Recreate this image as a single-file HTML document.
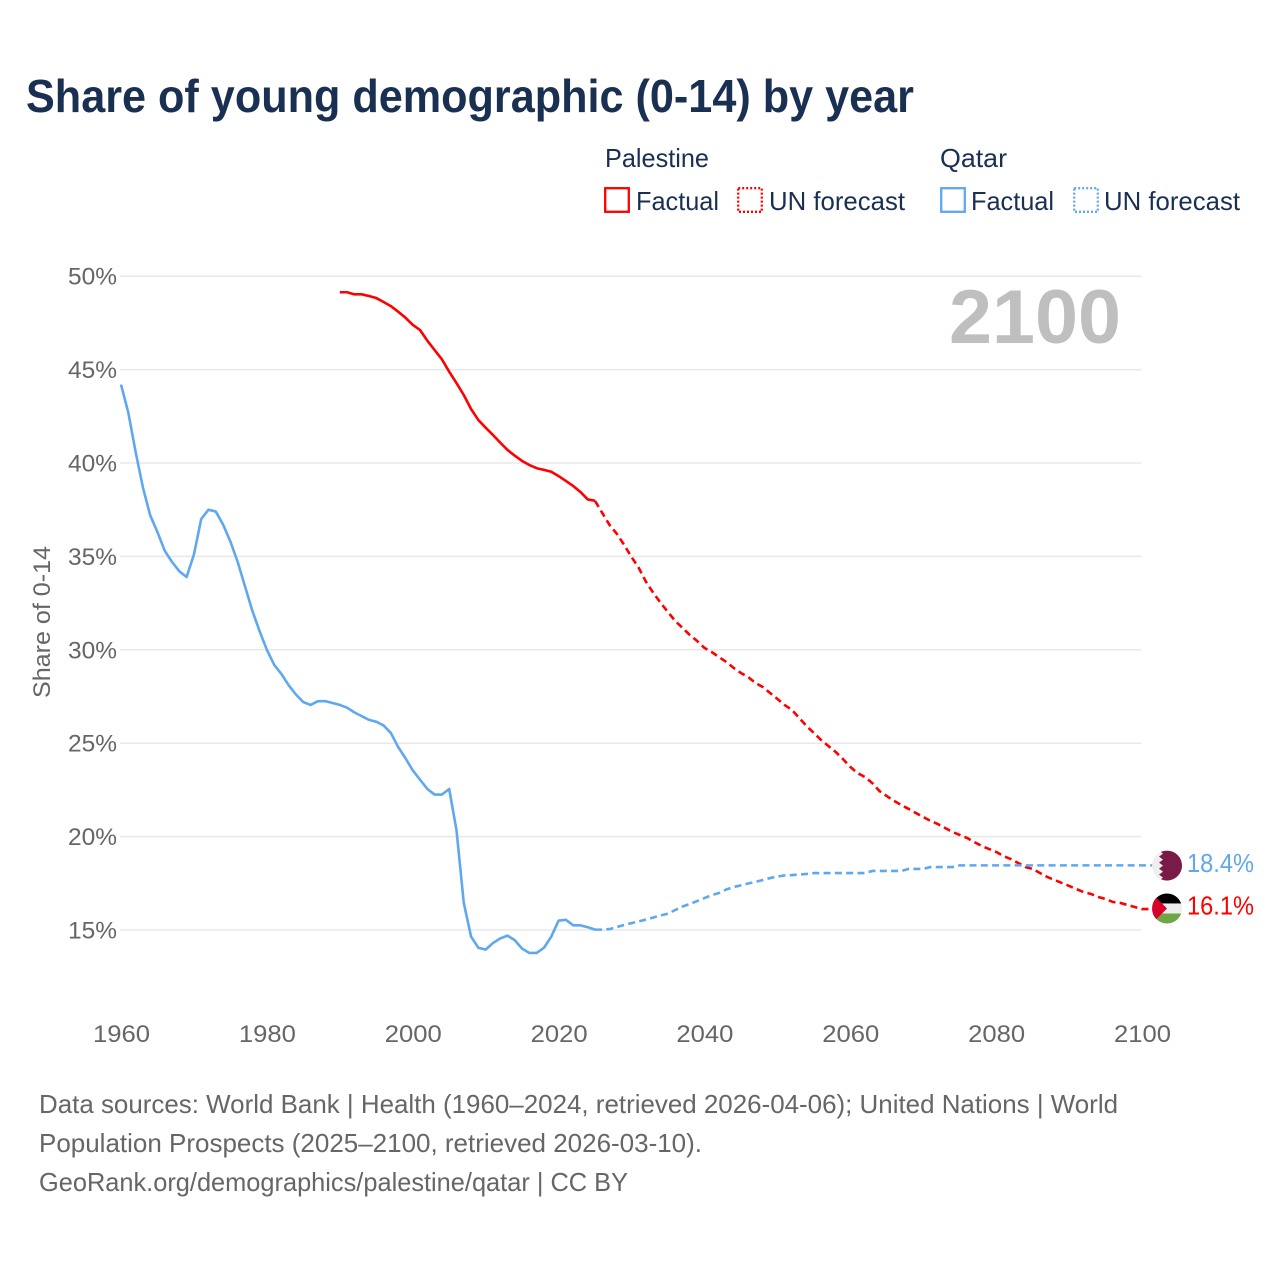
<!DOCTYPE html>
<html lang="en">
<head>
<meta charset="utf-8">
<title>Share of young demographic (0-14) by year</title>
<style>
  html, body { margin: 0; padding: 0; background: #ffffff; }
  svg { display: block; font-family: "Liberation Sans", sans-serif; }
</style>
</head>
<body>
<svg id="chart" width="1280" height="1280" viewBox="0 0 1280 1280" xmlns="http://www.w3.org/2000/svg">
  <defs>
    <clipPath id="flag-clip"><circle cx="0" cy="0" r="15"></circle></clipPath>
  </defs>
  <rect x="0" y="0" width="1280" height="1280" fill="#ffffff"></rect>

  <text x="26" y="112" font-size="46" font-weight="700" fill="#1a3052" textLength="888" lengthAdjust="spacingAndGlyphs">Share of young demographic (0-14) by year</text>

  <g font-size="26" fill="#1a3052">
    <text x="605" y="167" textLength="104" lengthAdjust="spacingAndGlyphs">Palestine</text>
    <text x="940" y="167" textLength="67" lengthAdjust="spacingAndGlyphs">Qatar</text>

    <rect x="605.2" y="188.2" width="23.6" height="23.6" fill="none" stroke="#ff0000" stroke-width="2.3"></rect>
    <text x="636" y="210" textLength="83" lengthAdjust="spacingAndGlyphs">Factual</text>
    <rect x="738.2" y="188.2" width="23.6" height="23.6" fill="none" stroke="#ff0000" stroke-width="2.3" stroke-dasharray="2 2"></rect>
    <text x="769" y="210" textLength="136" lengthAdjust="spacingAndGlyphs">UN forecast</text>

    <rect x="941.2" y="188.2" width="23.6" height="23.6" fill="none" stroke="#5fa8ee" stroke-width="2.3"></rect>
    <text x="971" y="210" textLength="83" lengthAdjust="spacingAndGlyphs">Factual</text>
    <rect x="1074.2" y="188.2" width="23.6" height="23.6" fill="none" stroke="#5fa8ee" stroke-width="2.3" stroke-dasharray="2 2"></rect>
    <text x="1104" y="210" textLength="136" lengthAdjust="spacingAndGlyphs">UN forecast</text>
  </g>

  <g id="grid"></g>
  <g id="y-ticks" font-size="24" fill="#666666" text-anchor="end"></g>
  <g id="x-ticks" font-size="24" fill="#666666" text-anchor="middle"></g>

  <text transform="translate(50,622) rotate(-90)" font-size="24" fill="#666666" text-anchor="middle" textLength="152" lengthAdjust="spacingAndGlyphs">Share of 0-14</text>

  <text x="949" y="343" font-size="76" font-weight="700" fill="#bfbfbf" textLength="172" lengthAdjust="spacingAndGlyphs">2100</text>

  <g id="series" fill="none" stroke-width="2.6" stroke-linejoin="round"></g>

  <g id="flag-qatar">
    <g clip-path="url(#flag-clip)">
      <rect x="-15" y="-15" width="30" height="30" fill="#eeeeee"></rect>
      <polygon points="15,-15 -8,-15 -4,-12 -8,-9 -4,-6 -8,-3 -4,0 -8,3 -4,6 -8,9 -4,12 -8,15 15,15" fill="#7a1a47"></polygon>
    </g>
  </g>
  <g id="flag-palestine">
    <g clip-path="url(#flag-clip)">
      <rect x="-15" y="-15" width="30" height="10" fill="#000000"></rect>
      <rect x="-15" y="-5" width="30" height="10" fill="#eeeeee"></rect>
      <rect x="-15" y="5" width="30" height="10" fill="#6fa543"></rect>
      <polygon points="-15,-15 0,0 -15,15" fill="#d9002c"></polygon>
    </g>
  </g>
  <g id="end-labels" font-size="26"></g>

  <g font-size="26" fill="#666666">
    <text x="39" y="1113" textLength="1079" lengthAdjust="spacingAndGlyphs">Data sources: World Bank | Health (1960–2024, retrieved 2026-04-06); United Nations | World</text>
    <text x="39" y="1152" textLength="663" lengthAdjust="spacingAndGlyphs">Population Prospects (2025–2100, retrieved 2026-03-10).</text>
    <text x="39" y="1191" textLength="589" lengthAdjust="spacingAndGlyphs">GeoRank.org/demographics/palestine/qatar | CC BY</text>
  </g>
</svg>

<script>
const yTickValues = [50, 45, 40, 35, 30, 25, 20, 15];
const yTickLabels = ["50%", "45%", "40%", "35%", "30%", "25%", "20%", "15%"];
const xTickYears = [1960, 1980, 2000, 2020, 2040, 2060, 2080, 2100];

const qatarFactualStart = 1960;
const qatarFactual = [
  44.2, 42.7, 40.6, 38.7, 37.2, 36.3, 35.3, 34.7, 34.2, 33.9,
  35.1, 37.0, 37.5, 37.4, 36.7, 35.8, 34.7, 33.4, 32.1, 31.0,
  30.0, 29.2, 28.7, 28.1, 27.6, 27.2, 27.05, 27.25, 27.25, 27.15,
  27.05, 26.9, 26.65, 26.45, 26.25, 26.15, 25.95, 25.55, 24.8, 24.2,
  23.55, 23.05, 22.55, 22.25, 22.25, 22.55, 20.35, 16.45, 14.65, 14.05,
  13.95, 14.3, 14.55, 14.7, 14.45, 14.0, 13.77, 13.77, 14.05, 14.65,
  15.5, 15.55, 15.25, 15.25, 15.15, 15.02
];

const qatarForecastStart = 2025;
const qatarForecast = [
  15.02, 15.02, 15.05, 15.16, 15.27,
  15.37, 15.46, 15.56, 15.67, 15.78, 15.88, 16.07, 16.26, 16.39, 16.55,
  16.71, 16.87, 16.98, 17.17, 17.30, 17.39, 17.49, 17.57, 17.68, 17.78,
  17.86, 17.92, 17.94, 17.97, 18.0, 18.05, 18.05, 18.05, 18.05, 18.05,
  18.05, 18.05, 18.05, 18.16, 18.16, 18.16, 18.16, 18.16, 18.27, 18.27,
  18.27, 18.37, 18.37, 18.37, 18.37, 18.46, 18.46, 18.46, 18.46, 18.46,
  18.46, 18.46, 18.46, 18.46, 18.46, 18.46, 18.46, 18.46, 18.46, 18.46,
  18.46, 18.46, 18.46, 18.46, 18.46, 18.46, 18.46, 18.46, 18.46, 18.46,
  18.46
];

const palestineFactualStart = 1990;
const palestineFactual = [
  49.14, 49.14, 49.03, 49.03, 48.94, 48.83, 48.62, 48.40, 48.1, 47.78,
  47.4, 47.12, 46.55, 46.05, 45.55, 44.89, 44.28, 43.64, 42.89, 42.3,
  41.89, 41.5, 41.09, 40.7, 40.39, 40.11, 39.89, 39.72, 39.63, 39.53,
  39.3, 39.04, 38.77, 38.45, 38.05, 37.98
];

const palestineForecastStart = 2025;
const palestineForecast = [
  37.97, 37.32, 36.68, 36.2, 35.61,
  34.97, 34.38, 33.63, 33.04, 32.51, 32.02, 31.54, 31.17, 30.79, 30.47,
  30.1, 29.88, 29.61, 29.35, 29.03, 28.76, 28.54, 28.22, 28.01, 27.69,
  27.37, 27.04, 26.78, 26.35, 25.92, 25.55, 25.17, 24.85, 24.53, 24.15,
  23.73, 23.4, 23.19, 22.87, 22.44, 22.17, 21.91, 21.69, 21.48, 21.26,
  21.05, 20.84, 20.67, 20.46, 20.25, 20.09, 19.93, 19.71, 19.5, 19.34,
  19.18, 18.96, 18.8, 18.59, 18.37, 18.27, 18.05, 17.84, 17.68, 17.52,
  17.36, 17.19, 17.03, 16.93, 16.77, 16.66, 16.5, 16.45, 16.34, 16.23,
  16.12
];

const endLabelQatar = "18.4%";
const endLabelPalestine = "16.1%";

const SVG_NS = "http://www.w3.org/2000/svg";
const PLOT_LEFT = 121;
const YEAR_PX = 7.293;
const Y_BASE = 930;
const PCT_PX = 18.68;
const FLAG_OFFSET = 25;
const RED = "#ff0000";
const BLUE = "#5fa8ee";

function xScale(year) { return PLOT_LEFT + (year - 1960) * YEAR_PX; }
function yScale(value) { return Y_BASE - (value - 15) * PCT_PX; }

function linePath(startYear, values, extendToFlag) {
  let d = "";
  values.forEach(function (v, i) {
    d += (i === 0 ? "M" : "L") + xScale(startYear + i).toFixed(2) + " " + yScale(v).toFixed(2) + " ";
  });
  if (extendToFlag) {
    const last = values.length - 1;
    d += "L" + (xScale(startYear + last) + FLAG_OFFSET).toFixed(2) + " " + yScale(values[last]).toFixed(2);
  }
  return d;
}

const gridGroup = document.getElementById("grid");
const yTickGroup = document.getElementById("y-ticks");
yTickValues.forEach(function (v, i) {
  const line = document.createElementNS(SVG_NS, "line");
  line.setAttribute("x1", 120);
  line.setAttribute("x2", 1141.5);
  line.setAttribute("y1", yScale(v));
  line.setAttribute("y2", yScale(v));
  line.setAttribute("stroke", "#e8e8e8");
  line.setAttribute("stroke-width", "1.5");
  
  
  gridGroup.appendChild(line);

  const label = document.createElementNS(SVG_NS, "text");
  label.setAttribute("x", 117);
  label.setAttribute("y", yScale(v) + 8.5);
  label.setAttribute("textLength", "49");
  label.setAttribute("lengthAdjust", "spacingAndGlyphs");
  label.textContent = yTickLabels[i];
  
  
  yTickGroup.appendChild(label);
});

const xTickGroup = document.getElementById("x-ticks");
xTickYears.forEach(function (year) {
  const label = document.createElementNS(SVG_NS, "text");
  label.setAttribute("x", xScale(year) + 0.5);
  label.setAttribute("y", 1042);
  label.setAttribute("textLength", "57");
  label.setAttribute("lengthAdjust", "spacingAndGlyphs");
  label.textContent = String(year);
  
  
  xTickGroup.appendChild(label);
});

const seriesGroup = document.getElementById("series");

const palestineFactualLine = document.createElementNS(SVG_NS, "path");
palestineFactualLine.setAttribute("d", linePath(palestineFactualStart, palestineFactual, false));
palestineFactualLine.setAttribute("stroke", RED);


seriesGroup.appendChild(palestineFactualLine);

const palestineForecastLine = document.createElementNS(SVG_NS, "path");
palestineForecastLine.setAttribute("d", linePath(palestineForecastStart, palestineForecast, true));
palestineForecastLine.setAttribute("stroke", RED);
palestineForecastLine.setAttribute("stroke-dasharray", "7 4.3");


seriesGroup.appendChild(palestineForecastLine);

const qatarFactualLine = document.createElementNS(SVG_NS, "path");
qatarFactualLine.setAttribute("d", linePath(qatarFactualStart, qatarFactual, false));
qatarFactualLine.setAttribute("stroke", BLUE);


seriesGroup.appendChild(qatarFactualLine);

const qatarForecastLine = document.createElementNS(SVG_NS, "path");
qatarForecastLine.setAttribute("d", linePath(qatarForecastStart, qatarForecast, true));
qatarForecastLine.setAttribute("stroke", BLUE);
qatarForecastLine.setAttribute("stroke-dasharray", "7 4.3");


seriesGroup.appendChild(qatarForecastLine);

const flagX = xScale(2100) + FLAG_OFFSET;
const qatarEndY = yScale(qatarForecast[qatarForecast.length - 1]);
const palestineEndY = yScale(palestineForecast[palestineForecast.length - 1]);
document.getElementById("flag-qatar").setAttribute("transform", "translate(" + flagX + "," + (qatarEndY + 0.2) + ")");
document.getElementById("flag-palestine").setAttribute("transform", "translate(" + flagX + "," + (palestineEndY - 0.6) + ")");

const endLabelGroup = document.getElementById("end-labels");

const qatarEndLabel = document.createElementNS(SVG_NS, "text");
qatarEndLabel.setAttribute("x", flagX + 20);
qatarEndLabel.setAttribute("y", qatarEndY + 6.5);
qatarEndLabel.setAttribute("fill", BLUE);
qatarEndLabel.setAttribute("textLength", "67");
qatarEndLabel.setAttribute("lengthAdjust", "spacingAndGlyphs");
qatarEndLabel.textContent = endLabelQatar;


endLabelGroup.appendChild(qatarEndLabel);

const palestineEndLabel = document.createElementNS(SVG_NS, "text");
palestineEndLabel.setAttribute("x", flagX + 20);
palestineEndLabel.setAttribute("y", palestineEndY + 5.5);
palestineEndLabel.setAttribute("fill", RED);
palestineEndLabel.setAttribute("textLength", "67");
palestineEndLabel.setAttribute("lengthAdjust", "spacingAndGlyphs");
palestineEndLabel.textContent = endLabelPalestine;


endLabelGroup.appendChild(palestineEndLabel);
</script>
</body>
</html>
